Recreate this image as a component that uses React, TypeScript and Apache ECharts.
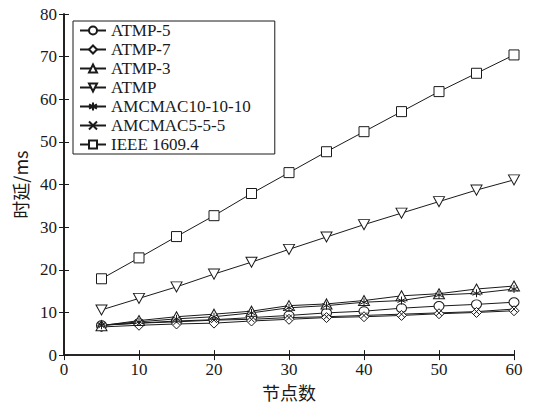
import React, { useEffect, useRef } from "react";
import * as echarts from "echarts";

const nodes = [5, 10, 15, 20, 25, 30, 35, 40, 45, 50, 55, 60];
const atmp5 = [7.0, 7.5, 8.0, 8.3, 8.8, 9.3, 9.9, 10.3, 11.0, 11.5, 11.9, 12.4];
const atmp7 = [6.6, 7.0, 7.3, 7.5, 8.0, 8.4, 8.8, 9.0, 9.3, 9.7, 10.0, 10.4];
const atmp3 = [6.9, 8.1, 9.0, 9.6, 10.3, 11.6, 12.0, 12.8, 13.9, 14.4, 15.5, 16.2];
const atmp = [10.6, 13.3, 16.0, 19.0, 21.8, 24.8, 27.7, 30.6, 33.3, 36.0, 38.7, 41.1];
const amc10 = [7.0, 7.8, 8.5, 9.0, 9.9, 11.1, 11.6, 12.4, 12.8, 14.1, 14.5, 15.5];
const amc5 = [7.0, 7.5, 7.8, 8.2, 8.4, 8.8, 9.0, 9.3, 9.6, 9.9, 10.2, 10.8];
const ieee = [17.9, 22.8, 27.8, 32.7, 37.9, 42.8, 47.7, 52.4, 57.1, 61.8, 66.1, 70.4];

const seriesNames = ["ATMP-5", "ATMP-7", "ATMP-3", "ATMP", "AMCMAC10-10-10", "AMCMAC5-5-5", "IEEE 1609.4"];
const xTicks = { min: 0, max: 60, interval: 10 };
const yTicks = { min: 0, max: 80, interval: 10 };

const INK = "#1a1a1a";
const SERIF = "'Liberation Serif', 'DejaVu Serif', serif";
const CJK = "'Noto Sans CJK SC', 'Liberation Serif', sans-serif";

export default function App() {
  const ref = useRef<HTMLDivElement>(null);
  useEffect(() => {
    if (!ref.current) return;
    const chart = echarts.init(ref.current, undefined, { renderer: "svg" });
    const datasets = [atmp5, atmp7, atmp3, atmp, amc10, amc5, ieee];
    const symbols = [
      "path://M10,5A5,5,0,1,1,0,5A5,5,0,1,1,10,5Z",
      "path://M5,0L10,5L5,10L0,5Z",
      "path://M5,0L10,9L0,9Z",
      "path://M0,0L10,0L5,9Z",
      "path://M5,0L5,10M0.7,2.5L9.3,7.5M9.3,2.5L0.7,7.5",
      "path://M1,1L9,9M9,1L1,9",
      "path://M0,0L10,0L10,10L0,10Z",
    ];
    const sizes = [[10, 9], 10, [11, 10], [11, 10], 8, 6, 10];
    const series = datasets.map((d, i) => ({
      name: seriesNames[i],
      type: "line",
      data: nodes.map((x, j) => [x, d[j]]),
      symbol: symbols[i],
      symbolSize: sizes[i],
      showAllSymbol: true,
      lineStyle: { color: INK, width: 1 },
      itemStyle: { color: "#fff", borderColor: INK, borderWidth: 1 },
      z: 3,
    }));
    const axisLine = { show: true, lineStyle: { color: INK, width: 1.6 } };
    const axisTick = { show: true, inside: true, length: 5, lineStyle: { color: INK, width: 1 } };
    chart.setOption({
      animation: false,
      backgroundColor: "#fff",
      grid: { left: 64, right: 22, top: 14, bottom: 49 },
      legend: {
        orient: "vertical",
        left: 73,
        top: 21,
        width: 210,
        padding: [1, 24, 1, 6],
        itemGap: 2,
        itemWidth: 26,
        itemHeight: 10,
        borderColor: INK,
        borderWidth: 1,
        backgroundColor: "#fff",
        textStyle: { fontFamily: SERIF, fontSize: 17, color: INK },
        data: seriesNames,
      },
      xAxis: [
        {
          type: "value",
          ...xTicks,
          name: "节点数",
          nameLocation: "middle",
          nameGap: 13,
          nameTextStyle: { fontFamily: CJK, fontSize: 18, color: INK },
          axisLine,
          axisTick,
          splitLine: { show: false },
          axisLabel: { fontFamily: SERIF, fontSize: 17, color: INK, margin: 6 },
        },
        {
          type: "value",
          ...xTicks,
          position: "top",
          axisLine,
          axisTick,
          splitLine: { show: false },
          axisLabel: { show: false },
        },
      ],
      yAxis: [
        {
          type: "value",
          ...yTicks,
          name: "时延/ms",
          nameLocation: "middle",
          nameGap: 20,
          nameTextStyle: { fontFamily: CJK, fontSize: 18, color: INK },
          axisLine,
          axisTick,
          splitLine: { show: false },
          axisLabel: { fontFamily: SERIF, fontSize: 17, color: INK, margin: 7 },
        },
        {
          type: "value",
          ...yTicks,
          position: "right",
          axisLine,
          axisTick,
          splitLine: { show: false },
          axisLabel: { show: false },
        },
      ],
      series,
    });
    return () => chart.dispose();
  }, []);
  return <div ref={ref} style={{ width: 536, height: 406, position: "absolute", left: 0, top: 0 }} />;
}
